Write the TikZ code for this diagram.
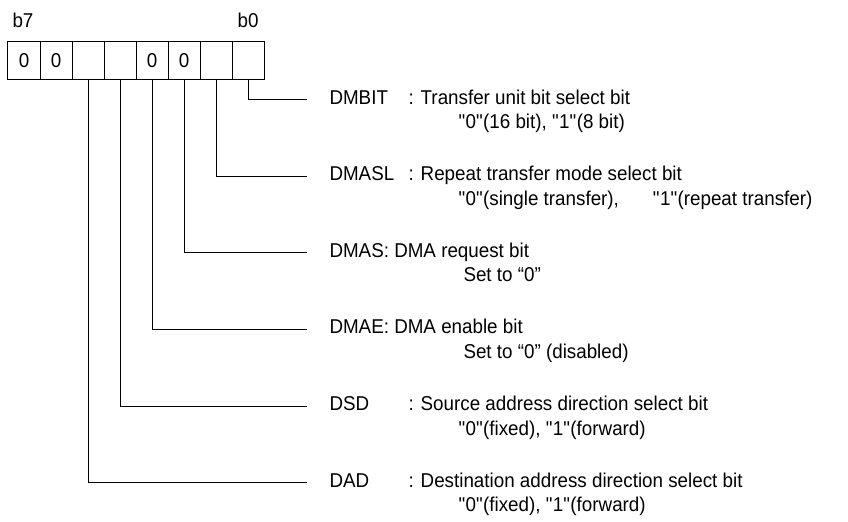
\documentclass[tikz,border=0pt]{standalone}
\usepackage{fontspec}
\setmainfont{Liberation Sans}[FakeStretch=0.94]
% straight double quotes round a value
\newcommand{\bitval}[1]{\textquotedbl#1\textquotedbl}

\begin{document}
\begin{tikzpicture}[x=1bp, y=-1bp, line width=1bp,
    block/.style={rectangle, draw, minimum width=32bp, minimum height=38bp, inner sep=0pt, font=\fontsize{20bp}{24bp}\selectfont},
    txt/.style={anchor=base west, inner sep=0pt, font=\fontsize{20bp}{24bp}\selectfont}]

\useasboundingbox (0,0) rectangle (848,522);

% Create the eight bit boxes, b7 on the left
\foreach \v [count=\i from 0] in {0,0,{},{},0,0,{},{}} {
    \pgfmathtruncatemacro\bitno{7-\i}
    \node[block] (bit\bitno) at (24+32*\i,61) {\v};
}

% bit numbers over the boxes
\node[txt, anchor=base] (b7) at (23,28) {b7};
\node[txt, anchor=base] (b0) at (248,28) {b0};

% and the leader lines, one for each used bit
\foreach \b/\y in {0/100,1/176.5,2/253,3/329.5,4/406,5/482.5} {
    \coordinate (end\b) at (307,\y);
    \draw (bit\b.south) |- (end\b);
}

% Heres the labels
\node[txt] (dmbit) at (329,104.5) {DMBIT};
\node[txt] (dmbitdesc) at (408,104.5) {: Transfer unit bit select bit};
\node[txt] (dmbitval) at (458,129) {\bitval{0}(16 bit), \bitval{1}(8 bit)};

\node[txt] (dmasl) at (329,181) {DMASL};
\node[txt] (dmasldesc) at (408,181) {: Repeat transfer mode select bit};
\node[txt] (dmaslval) at (458,205.5) {\bitval{0}(single transfer),\hspace{34bp}\bitval{1}(repeat transfer)};

\node[txt] (dmas) at (329,257.5) {DMAS: DMA request bit};
\node[txt] (dmasval) at (463,282) {Set to “0”};

\node[txt] (dmae) at (329,334) {DMAE: DMA enable bit};
\node[txt] (dmaeval) at (463,358.5) {Set to “0” (disabled)};

\node[txt] (dsd) at (329,410.5) {DSD};
\node[txt] (dsddesc) at (408,410.5) {: Source address direction select bit};
\node[txt] (dsdval) at (458,435) {\bitval{0}(fixed), \bitval{1}(forward)};

\node[txt] (dad) at (329,487) {DAD};
\node[txt] (daddesc) at (408,487) {: Destination address direction select bit};
\node[txt] (dadval) at (458,511.5) {\bitval{0}(fixed), \bitval{1}(forward)};

\end{tikzpicture}
\end{document}
